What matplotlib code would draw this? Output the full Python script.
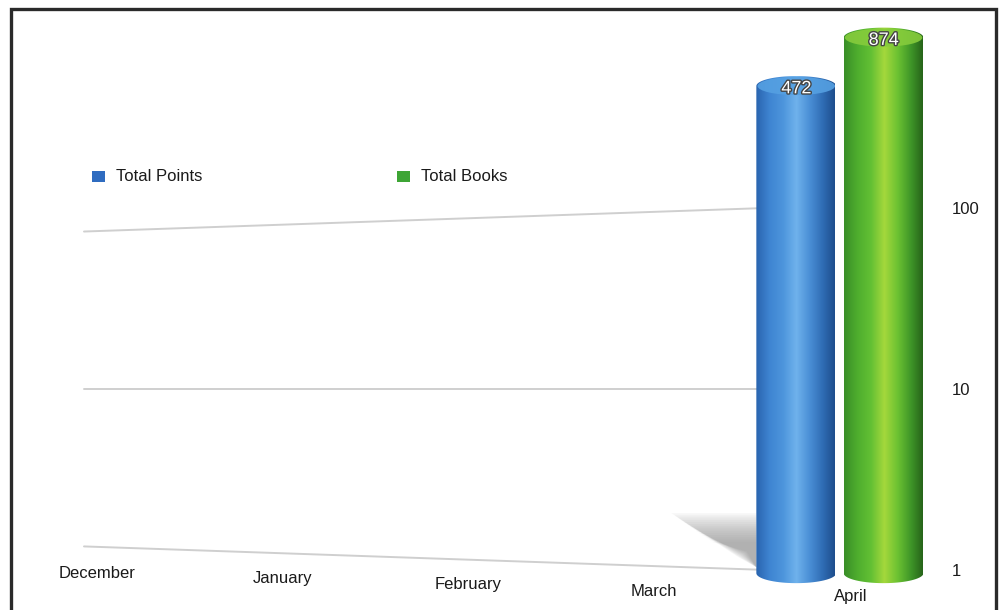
import numpy as np
import matplotlib
matplotlib.use('Agg')
import matplotlib.pyplot as plt
from matplotlib.patches import Ellipse, Rectangle, Polygon, PathPatch
from matplotlib.path import Path
from matplotlib.colors import LinearSegmentedColormap
from matplotlib.transforms import IdentityTransform, blended_transform_factory
import matplotlib.patheffects as pe

# data
months = ['December', 'January', 'February', 'March', 'April']
total_points = [np.nan, np.nan, np.nan, np.nan, 472]
total_books = [np.nan, np.nan, np.nan, np.nan, 874]
series_names = ['Total Points', 'Total Books']
grid_values = [1, 10, 100]
tick_labels = ['1', '10', '100']

plt.rcParams['font.family'] = ['Liberation Sans', 'DejaVu Sans']

W, H = 1006, 610
fig = plt.figure(figsize=(W / 100, H / 100), dpi=100)
fig.patch.set_facecolor('white')

# axes placed in pixel terms
ax = fig.add_axes([80 / W, 15 / H, 850 / W, 575 / H])
ax.set_yscale('log')
ax.set_xlim(-0.0915, 4.485)
ax.set_ylim(0.727, 1093.6)
for s in ax.spines.values():
    s.set_visible(False)
ax.set_xticks([])
ax.yaxis.tick_right()
ax.set_yticks(grid_values)
ax.set_yticklabels(tick_labels)
ax.yaxis.set_minor_locator(matplotlib.ticker.NullLocator())
ax.tick_params(axis='y', length=0, pad=16, labelsize=12, labelcolor='#1a1a1a')

# perspective-ish gridlines (slanted, converging to the left)
gx = np.linspace(-0.07, 3.6, 100)
scale = np.clip(0.87 + (gx + 0.07) / (3.6 + 0.07) * 0.13, None, 1.0)
for v in grid_values:
    gy = 10 ** (1 + (np.log10(v) - 1) * scale)
    ax.plot(gx, gy, color='#cfcfcf', lw=1.4, zorder=1, solid_capstyle='round')

# month labels, drifting down to the right
lab_tr = blended_transform_factory(ax.transData, ax.transAxes)
for i, m in enumerate(months):
    ax.text(i + (0.06 if i == 4 else 0), (595 - (573 + i * 6)) / 575, m, transform=lab_tr,
            ha='center', va='center', fontsize=12, color='#1a1a1a')

fig.canvas.draw()

blue_cmap = LinearSegmentedColormap.from_list('b', ['#2a65b0', '#3f85d2', '#4d95dc', '#6fb2ec', '#4a8fd6', '#2f6cb4', '#1c4a88'])
green_cmap = LinearSegmentedColormap.from_list('g', ['#3a8f28', '#4fae2e', '#63c034', '#a4d83c', '#6cc232', '#3f9628', '#245e18'])
cap_colors = ['#55a0e2', '#86cc3c']
cmaps = [blue_cmap, green_cmap]
bar_w = 0.43
offsets = [-0.235, 0.235]
bar_bottom = 0.96
cap_h = 20

for si, vals in enumerate([total_points, total_books]):
    for i, v in enumerate(vals):
        if np.isnan(v):
            continue
        xc = i + offsets[si]
        (xl, yb) = ax.transData.transform((xc - bar_w / 2, bar_bottom))
        (xr, yt) = ax.transData.transform((xc + bar_w / 2, v))
        cx = (xl + xr) / 2
        rx = (xr - xl) / 2
        ry = cap_h / 2
        # outline of the cylinder: top half ellipse + sides + bottom half ellipse
        t_top = np.linspace(0, np.pi, 40)
        t_bot = np.linspace(np.pi, 2 * np.pi, 40)
        top = np.column_stack([cx + rx * np.cos(t_top), yt + ry * np.sin(t_top)])
        bot = np.column_stack([cx + rx * np.cos(t_bot), yb + ry * np.sin(t_bot)])
        verts = np.vstack([top, bot, top[:1]])
        clip = PathPatch(Path(verts), transform=IdentityTransform(), facecolor='none', edgecolor='none')
        ax.add_patch(clip)

        if si == 0:
            # soft shadow behind the bars
            n = 14
            for k in range(n):
                d = k * 2.2
                shadow = Polygon([[xl, yb + 60 - d], [xl - 85 + d * 1.4, yb + 60 - d],
                                  [xl - 18 + d * 0.3, yb + 16 + d * 0.2], [xl, yb + 6]],
                                 closed=True, transform=IdentityTransform(), facecolor='#8c8c8c',
                                 edgecolor='none', alpha=0.07, zorder=1.5)
                ax.add_patch(shadow)

        grad = np.linspace(0, 1, 256).reshape(1, -1)
        xd0, _ = ax.transData.inverted().transform((xl, yb))
        xd1, _ = ax.transData.inverted().transform((xr, yb))
        _, yd0 = ax.transData.inverted().transform((xl, yb - ry - 2))
        _, yd1 = ax.transData.inverted().transform((xl, yt + ry + 2))
        im = ax.imshow(grad, cmap=cmaps[si], extent=[xd0, xd1, yd0, yd1], aspect='auto',
                       interpolation='bilinear', zorder=3)
        im.set_clip_path(clip)

        # top face
        cap = Ellipse((cx, yt), 2 * rx * 0.97, cap_h * 0.9, transform=IdentityTransform(),
                      facecolor=cap_colors[si], edgecolor='none', zorder=4, alpha=0.9)
        ax.add_patch(cap)

        ax.annotate(f'{v:g}', (xc, v), xytext=(0, -2), textcoords='offset points',
                    ha='center', va='center', fontsize=13, color='white', zorder=5,
                    path_effects=[pe.withStroke(linewidth=2, foreground='#444444')])

ax.set_xlim(-0.0915, 4.485)
ax.set_ylim(0.727, 1093.6)

# legend drawn by hand
leg_colors = ['#2f6cc0', '#3ea535']
leg_x = [92, 397]
for name, c, lx in zip(series_names, leg_colors, leg_x):
    fig.patches.append(Rectangle((lx / W, (H - 182) / H), 13 / W, 11 / H,
                                 transform=fig.transFigure, facecolor=c, edgecolor='none'))
    fig.text((lx + 24) / W, (H - 177) / H, name, ha='left', va='center',
             fontsize=12, color='#1a1a1a')

# dark frame around the slide
fig.patches.append(Rectangle((11 / W, -20 / H), 985 / W, (H - 9 + 20) / H,
                             transform=fig.transFigure, facecolor='none',
                             edgecolor='#2a2a2a', linewidth=2.4, clip_on=False))

fig.savefig('out.png', dpi=100)
